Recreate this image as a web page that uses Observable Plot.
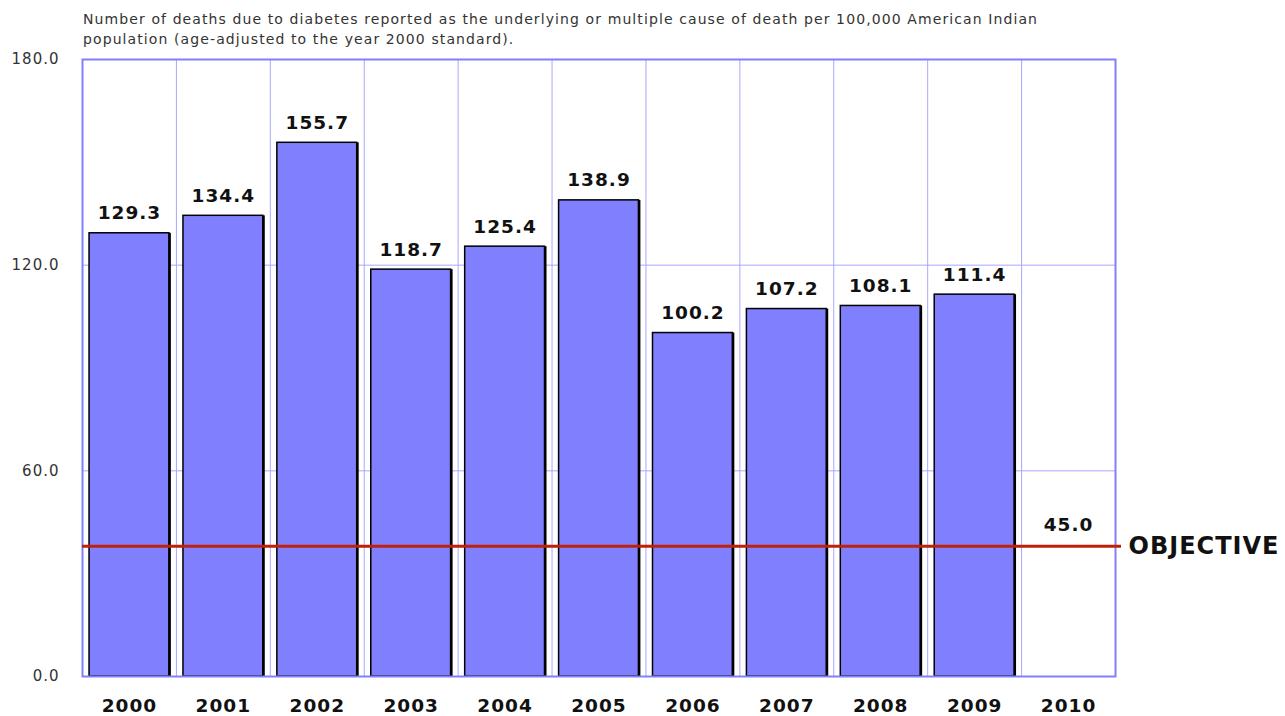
<!DOCTYPE html>
<html>
<head>
<meta charset="utf-8">
<script src="https://cdn.jsdelivr.net/npm/d3@7"></script>
<script src="https://cdn.jsdelivr.net/npm/@observablehq/plot@0.6"></script>
<style>
  html, body { margin: 0; padding: 0; background: #fff; }
  #title { box-sizing: border-box; height: 49px; padding: 9px 0 0 83px; font-family: "DejaVu Sans", sans-serif; font-size: 14px; line-height: 20px; color: #333; letter-spacing: 1.1px; white-space: nowrap; }
  #chart svg { display: block; }
</style>
</head>
<body>
<div id="title">Number of deaths due to diabetes reported as the underlying or multiple cause of death per 100,000 American Indian<br>population (age-adjusted to the year 2000 standard).</div>
<div id="chart"></div>
<script>
const years = ["2000","2001","2002","2003","2004","2005","2006","2007","2008","2009","2010"];
const rates = [129.3,134.4,155.7,118.7,125.4,138.9,100.2,107.2,108.1,111.4,null];
const yTicks = [0, 60, 120, 180];
const objectiveLabel = "45.0";
const objectiveYear = "2010";
const objectiveLineLevel = [38];   // level at which the objective line is drawn in the picture
const objectiveText = "OBJECTIVE";

const data = years.map((y, i) => ({year: y, rate: rates[i]})).filter(d => d.rate != null);

const W = 1285, H = 667, ML = 82, MR = 170, MT = 10, MB = 40;
const step = (W - ML - MR) / years.length;

const chart = Plot.plot({
  width: W,
  height: H,
  marginLeft: ML,
  marginRight: MR,
  marginTop: MT,
  marginBottom: MB,
  style: {fontFamily: "DejaVu Sans, sans-serif", background: "#fff", letterSpacing: "1px"},
  x: {domain: years, paddingInner: 0.15, paddingOuter: 0.075, round: false, label: null},
  y: {domain: [0, 180], label: null},
  marks: [
    Plot.ruleY(yTicks.slice(1, -1), {stroke: "#a8a8ff", strokeWidth: 1}),
    Plot.ruleX(years.slice(1), {dx: -step / 2, stroke: "#a8a8ff", strokeWidth: 1}),
    Plot.barY(data, {x: "year", y: "rate", fill: "#000", dx: 2}),
    Plot.barY(data, {x: "year", y: "rate", fill: "#8080ff", stroke: "#000", strokeWidth: 1.5}),
    Plot.text(data, {x: "year", y: "rate", text: d => d.rate.toFixed(1), dy: -20, fontWeight: "bold", fontSize: 18.5, fill: "#111"}),
    Plot.frame({stroke: "#8080ff", strokeWidth: 2}),
    Plot.ruleY(objectiveLineLevel, {stroke: "#c0200a", strokeWidth: 3, insetRight: -6}),
    Plot.text(objectiveLineLevel, {x: () => objectiveYear, y: d => d, text: () => objectiveLabel, dy: -21, fontWeight: "bold", fontSize: 18.5, fill: "#111"}),
    Plot.text(objectiveLineLevel, {frameAnchor: "right", y: d => d, text: () => objectiveText, dx: 13, textAnchor: "start", fontWeight: "bold", fontSize: 24, fill: "#111"}),
    Plot.axisY({ticks: yTicks, tickFormat: d3.format(".1f"), tickSize: 0, tickPadding: 23, fontSize: 15, fill: "#333"}),
    Plot.axisX({tickSize: 0, tickPadding: 22, fontSize: 18.5, fontWeight: "bold", fill: "#111"})
  ]
});
document.getElementById("chart").append(chart);
</script>
</body>
</html>
